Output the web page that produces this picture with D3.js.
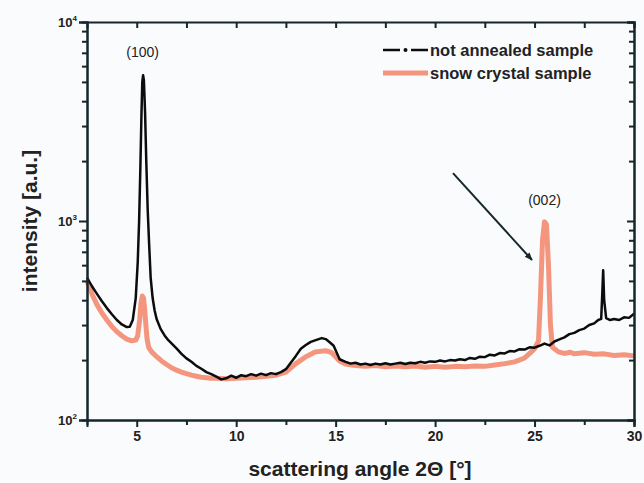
<!DOCTYPE html>
<html>
<head>
<meta charset="utf-8">
<script src="https://cdn.jsdelivr.net/npm/d3@7"></script>
<style>
  html, body { margin: 0; padding: 0; background: #fafbfd; }
  svg { display: block; font-family: "Liberation Sans", Arial, sans-serif; }
</style>
</head>
<body>
<div id="chart"></div>
<script>
// x: scattering angle 2Θ [°], y: intensity [a.u.]
const notAnnealedX = [2.5, 2.75, 3.0, 3.25, 3.5, 3.75, 4.0, 4.25, 4.5, 4.65, 4.8, 4.95, 5.05, 5.12, 5.18, 5.24, 5.28, 5.32, 5.36, 5.42, 5.48, 5.55, 5.62, 5.7, 5.8, 5.9, 6.0, 6.2, 6.4, 6.6, 6.8, 7.0, 7.25, 7.5, 7.75, 8.0, 8.25, 8.5, 8.75, 9.0, 9.25, 9.5, 9.75, 10.0, 10.25, 10.5, 10.75, 11.0, 11.25, 11.5, 11.75, 12.0, 12.25, 12.5, 13.0, 13.25, 13.5, 13.75, 14.0, 14.3, 14.5, 14.7, 14.9, 15.0, 15.2, 15.5, 15.75, 16.0, 16.25, 16.5, 16.75, 17.0, 17.25, 17.5, 17.75, 18.0, 18.25, 18.5, 18.75, 19.0, 19.25, 19.5, 19.75, 20.0, 20.25, 20.5, 20.75, 21.0, 21.25, 21.5, 21.75, 22.0, 22.25, 22.5, 22.75, 23.0, 23.25, 23.5, 23.75, 24.0, 24.25, 24.5, 24.75, 25.0, 25.25, 25.5, 25.75, 26.0, 26.25, 26.5, 26.75, 27.0, 27.25, 27.5, 27.75, 28.0, 28.2, 28.35, 28.4, 28.45, 28.5, 28.6, 28.8, 29.0, 29.25, 29.5, 29.75, 30.0];
const notAnnealedY = [520, 470, 430, 395, 365, 340, 318, 302, 293, 294, 318, 410, 620, 1000, 1800, 3500, 5000, 5400, 5100, 3500, 2000, 1150, 780, 520, 410, 355, 322, 287, 266, 251, 240, 229, 215, 204, 196, 187, 181, 174, 170, 165, 160, 162, 167, 163, 168, 166, 170, 167, 171, 168, 172, 170, 174, 180, 210, 228, 238, 247, 252, 258, 255, 246, 236, 224, 202, 196, 192, 194, 190, 192, 189, 192, 190, 193, 190, 192, 194, 191, 194, 193, 196, 194, 197, 196, 199, 197, 200, 199, 202, 200, 205, 203, 208, 207, 213, 211, 217, 216, 222, 221, 227, 226, 232, 231, 236, 242, 237, 248, 254, 260, 270, 274, 283, 288, 300, 306, 318, 322, 420, 565, 400, 325, 318, 322, 318, 328, 326, 342];

const snowCrystalX = [2.5, 2.75, 3.0, 3.25, 3.5, 3.75, 4.0, 4.25, 4.5, 4.75, 4.95, 5.05, 5.15, 5.22, 5.28, 5.34, 5.4, 5.46, 5.52, 5.6, 5.75, 6.0, 6.25, 6.5, 6.75, 7.0, 7.25, 7.5, 7.75, 8.0, 8.25, 8.5, 8.75, 9.0, 9.5, 10.0, 10.5, 11.0, 11.5, 12.0, 12.5, 13.0, 13.5, 14.0, 14.5, 14.8, 15.0, 15.2, 15.5, 16.0, 16.5, 17.0, 17.5, 18.0, 18.5, 19.0, 19.5, 20.0, 20.5, 21.0, 21.5, 22.0, 22.5, 23.0, 23.5, 24.0, 24.5, 24.8, 25.0, 25.2, 25.3, 25.4, 25.5, 25.6, 25.7, 25.8, 25.9, 26.2, 26.5, 26.8, 27.0, 27.5, 28.0, 28.5, 29.0, 29.5, 30.0];
const snowCrystalY = [500, 430, 380, 345, 318, 295, 278, 265, 255, 250, 252, 265, 320, 390, 420, 410, 360, 300, 255, 232, 220, 208, 198, 190, 183, 178, 174, 171, 168, 166, 164, 163, 162, 162, 161, 162, 163, 164, 166, 168, 174, 192, 208, 220, 223, 218, 208, 198, 191, 188, 186, 188, 185, 187, 185, 187, 184, 186, 184, 186, 185, 187, 186, 189, 192, 196, 205, 218, 228, 250, 420, 800, 990, 960, 600, 300, 232, 220, 216, 219, 215, 218, 214, 215, 211, 213, 210];

const xMajorTicks = [5, 10, 15, 20, 25, 30];
const xMinorTicks = [7.5, 12.5, 17.5, 22.5, 27.5];
const yMajorTicks = [100, 1000, 10000];
const yTickExponents = ['2', '3', '4'];
const yMinorTicks = [200, 300, 400, 500, 600, 700, 800, 900, 2000, 3000, 4000, 5000, 6000, 7000, 8000, 9000];

const seriesNames = ['not annealed sample', 'snow crystal sample'];
const peakLabels = [{ text: '(100)', x: 5.3, y: 6700 }, { text: '(002)', x: 25.5, y: 1200 }];

const width = 644, height = 483;
const margin = { top: 22, right: 10, bottom: 63, left: 87 };
const axisColor = '#15262c';
const blackColor = '#0c0c0c';
const orangeColor = '#f37c5e';

const svg = d3.select('#chart').append('svg')
  .attr('width', width)
  .attr('height', height);

const x = d3.scaleLinear()
  .domain([2.5, 30])
  .range([margin.left, width - margin.right]);

const y = d3.scaleLog()
  .domain([100, 10000])
  .range([height - margin.bottom, margin.top]);

// Curves
const line = d3.line()
  .x(d => x(d[0]))
  .y(d => y(d[1]));

svg.append('path')
  .datum(snowCrystalX.map((v, i) => [v, snowCrystalY[i]]))
  .attr('d', line)
  .attr('fill', 'none')
  .attr('stroke', orangeColor)
  .attr('stroke-width', 5)
  .attr('stroke-linejoin', 'round')
  .attr('opacity', 0.8);

svg.append('path')
  .datum(notAnnealedX.map((v, i) => [v, notAnnealedY[i]]))
  .attr('d', line)
  .attr('fill', 'none')
  .attr('stroke', blackColor)
  .attr('stroke-width', 2.5)
  .attr('stroke-linejoin', 'round');

// Axes
svg.append('g')
  .attr('transform', `translate(0,${y(100)})`)
  .call(d3.axisBottom(x).tickValues(xMajorTicks).tickSize(7).tickPadding(4).tickFormat(d3.format('d')));
svg.append('g')
  .attr('transform', `translate(0,${y(100)})`)
  .call(d3.axisBottom(x).tickValues(xMinorTicks).tickSize(5).tickFormat(''));
svg.append('g')
  .attr('transform', `translate(0,${y(10000)})`)
  .call(d3.axisBottom(x).tickValues(xMajorTicks.concat(xMinorTicks)).tickSize(6).tickFormat(''));

svg.append('g')
  .attr('transform', `translate(${x(2.5)},0)`)
  .call(d3.axisLeft(y).tickValues(yMajorTicks).tickSize(8).tickFormat(''));
svg.append('g')
  .attr('transform', `translate(${x(2.5)},0)`)
  .call(d3.axisLeft(y).tickValues(yMinorTicks).tickSize(5).tickFormat(''));
svg.append('g')
  .attr('transform', `translate(${x(30)},0)`)
  .call(d3.axisLeft(y).tickValues(yMajorTicks).tickSize(7).tickFormat(''));
svg.append('g')
  .attr('transform', `translate(${x(30)},0)`)
  .call(d3.axisLeft(y).tickValues(yMinorTicks).tickSize(5).tickFormat(''));

svg.selectAll('.domain')
  .attr('stroke', axisColor)
  .attr('stroke-width', 2);
svg.selectAll('.tick line')
  .attr('stroke', axisColor)
  .attr('stroke-width', 2);
svg.selectAll('.tick text')
  .attr('fill', '#222')
  .attr('font-size', '14px')
  .attr('font-weight', 'bold')
  .attr('font-family', '"Liberation Sans", Arial, sans-serif');

// log labels 10^n
yMajorTicks.forEach((v, i) => {
  const t = svg.append('text')
    .attr('x', x(2.5) - 10)
    .attr('y', y(v) + 5)
    .attr('text-anchor', 'end')
    .attr('fill', '#222')
    .attr('font-weight', 'bold')
    .attr('font-size', '13px');
  t.append('tspan').text('10');
  t.append('tspan')
    .attr('font-size', '8px')
    .attr('dy', -6)
    .text(yTickExponents[i]);
});

// Axis titles
svg.append('text')
  .attr('x', 360)
  .attr('y', 476)
  .attr('text-anchor', 'middle')
  .attr('font-size', '21px')
  .attr('font-weight', 'bold')
  .attr('fill', '#222')
  .text('scattering angle 2Θ [°]');

svg.append('text')
  .attr('transform', `translate(37,${(y(100) + y(10000)) / 2}) rotate(-90)`)
  .attr('text-anchor', 'middle')
  .attr('font-size', '21px')
  .attr('font-weight', 'bold')
  .attr('fill', '#222')
  .text('intensity [a.u.]');

// Peak labels
svg.selectAll('.peak')
  .data(peakLabels)
  .enter()
  .append('text')
  .attr('x', d => x(d.x))
  .attr('y', d => y(d.y))
  .attr('text-anchor', 'middle')
  .attr('font-size', '14px')
  .attr('fill', '#222')
  .text(d => d.text);

// Arrow pointing at (002)
svg.append('defs').append('marker')
  .attr('id', 'arrow')
  .attr('viewBox', '0 0 10 10')
  .attr('refX', 9).attr('refY', 5)
  .attr('markerWidth', 4).attr('markerHeight', 4)
  .attr('orient', 'auto')
  .append('path')
  .attr('d', 'M0,1 L10,5 L0,9 Z')
  .attr('fill', axisColor);

svg.append('line')
  .attr('x1', x(20.9)).attr('y1', y(1740))
  .attr('x2', x(24.87)).attr('y2', y(637))
  .attr('stroke', axisColor)
  .attr('stroke-width', 2)
  .attr('marker-end', 'url(#arrow)');

// Legend
const legend = svg.append('g').attr('transform', 'translate(383,50)');
const rowGap = 23;

legend.append('line')
  .attr('x1', 0).attr('x2', 45).attr('y1', 0).attr('y2', 0)
  .attr('stroke', blackColor).attr('stroke-width', 2.5)
  .attr('stroke-dasharray', '17,11');
legend.append('circle')
  .attr('cx', 22.5).attr('cy', 0).attr('r', 2)
  .attr('fill', blackColor);

legend.append('line')
  .attr('x1', 0).attr('x2', 45).attr('y1', rowGap).attr('y2', rowGap)
  .attr('stroke', orangeColor).attr('stroke-width', 5)
  .attr('opacity', 0.8);

legend.selectAll('.lg')
  .data(seriesNames)
  .enter()
  .append('text')
  .attr('x', 47)
  .attr('y', (d, i) => i * rowGap + 6)
  .attr('font-size', '16.5px')
  .attr('font-weight', 'bold')
  .attr('fill', '#222')
  .text(d => d);
</script>
</body>
</html>
